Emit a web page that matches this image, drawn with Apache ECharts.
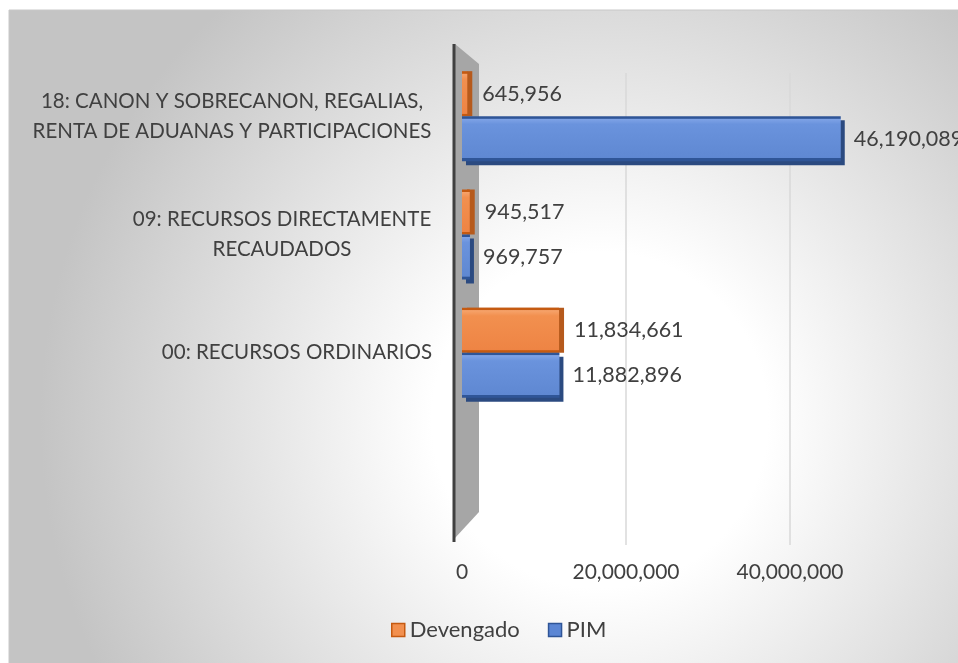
<!DOCTYPE html>
<html>
<head>
<meta charset="utf-8">
<script src="https://cdn.jsdelivr.net/npm/echarts@6/dist/echarts.min.js"></script>
<style>
html,body{margin:0;padding:0;background:#fff;}
#chart{width:958px;height:663px;}
</style>
</head>
<body>
<div id="chart"></div>
<script>
// ---- data ----
const categories = [
  "00: RECURSOS ORDINARIOS",
  "09: RECURSOS DIRECTAMENTE\nRECAUDADOS",
  "18: CANON Y SOBRECANON, REGALIAS,\nRENTA DE ADUANAS Y PARTICIPACIONES"
];
const devengado = [11834661, 945517, 645956];
const pim = [11882896, 969757, 46190089];
const seriesNames = ["Devengado", "PIM"];
const xTicks = [0, 20000000, 40000000];
const xMax = 50000000;

// ---- chart ----
const chart = echarts.init(document.getElementById('chart'), null, {renderer: 'canvas'});
const fontFam = 'Lato, "Open Sans", sans-serif';
const txt = '#404040';
const labelWidths = [270, 300, 400];
const fmt = v => v.toLocaleString('en-US');

const rich = {};
labelWidths.forEach((w, i) => {
  rich['c' + i] = {width: w, align: 'center', fontSize: 20.5, lineHeight: 30, color: txt, fontFamily: fontFam};
});

const orangeFill = new echarts.graphic.LinearGradient(0, 0, 0, 1, [
  {offset: 0, color: '#c55a11'}, {offset: 0.05, color: '#c55a11'},
  {offset: 0.06, color: '#f6a36b'}, {offset: 0.18, color: '#f2904f'},
  {offset: 0.94, color: '#ee8444'}, {offset: 0.95, color: '#c55a11'}, {offset: 1, color: '#c55a11'}
]);
const blueFill = new echarts.graphic.LinearGradient(0, 0, 0, 1, [
  {offset: 0, color: '#2f5597'}, {offset: 0.05, color: '#2f5597'},
  {offset: 0.06, color: '#7fa3e6'}, {offset: 0.18, color: '#6a93dd'},
  {offset: 0.93, color: '#5f88d2'}, {offset: 0.94, color: '#2f5597'}, {offset: 1, color: '#2f5597'}
]);

const option = {
  animation: false,
  textStyle: {fontFamily: fontFam},
  graphic: [
    {
      type: 'rect', z: -100, silent: true,
      shape: {x: 9, y: 10, width: 960, height: 660},
      style: {
        fill: new echarts.graphic.RadialGradient(600, 420, 560, [
          {offset: 0, color: '#ffffff'},
          {offset: 0.3, color: '#ffffff'},
          {offset: 1, color: '#c4c4c4'}
        ], true),
        stroke: '#c8c8c8', lineWidth: 1
      }
    },
    {
      type: 'polygon', z: 1, silent: true,
      shape: {points: [[455, 44], [479, 64], [479, 512], [455, 538]]},
      style: {fill: '#a6a6a6'}
    },
    {
      type: 'line', z: 1, silent: true,
      shape: {x1: 454, y1: 44, x2: 454, y2: 542},
      style: {stroke: '#404040', lineWidth: 3}
    }
  ],
  legend: {
    data: seriesNames,
    bottom: 17,
    left: 386,
    icon: 'rect',
    itemWidth: 13,
    itemHeight: 13,
    itemGap: 28,
    textStyle: {fontSize: 22, color: txt, fontFamily: fontFam}
  },
  grid: [
    {left: 462, right: 86, top: 57, bottom: 251, containLabel: false},
    {left: 462, right: 86, top: 73, bottom: 118, containLabel: false}
  ],
  xAxis: [
    {gridIndex: 0, type: 'value', min: 0, max: xMax, show: false},
    {
      gridIndex: 1, type: 'value', min: 0, max: xMax, interval: 20000000,
      axisLine: {show: false}, axisTick: {show: false},
      splitLine: {show: true, showMinLine: false, showMaxLine: false, lineStyle: {color: '#d9d9d9', width: 1.5}},
      axisLabel: {
        margin: 17, fontSize: 21, color: txt, fontFamily: fontFam,
        showMaxLabel: false,
        formatter: v => (xTicks.indexOf(v) >= 0 ? fmt(v) : '')
      }
    }
  ],
  yAxis: [
    {
      gridIndex: 0, type: 'category', data: categories,
      axisLine: {show: false}, axisTick: {show: false},
      axisLabel: {
        margin: 30,
        formatter: (v, i) => v.split('\n').map(l => '{c' + i + '|' + l + '}').join('\n'),
        rich: rich
      }
    },
    {gridIndex: 1, type: 'value', min: 0, max: 1, show: false}
  ],
  series: [
    {
      name: seriesNames[0], type: 'bar', xAxisIndex: 0, yAxisIndex: 0,
      data: devengado, barWidth: 45, barGap: '0%', z: 3,
      itemStyle: {color: orangeFill, borderWidth: 0,
        shadowColor: '#b65a1c', shadowOffsetX: 5, shadowOffsetY: 0, shadowBlur: 0},
      label: {show: true, position: 'right', distance: 15, fontSize: 21.5, color: txt, fontFamily: fontFam, formatter: p => fmt(p.value)}
    },
    {
      name: seriesNames[1], type: 'bar', xAxisIndex: 0, yAxisIndex: 0,
      data: pim, barWidth: 45, barGap: '0%', z: 3,
      itemStyle: {color: blueFill, borderWidth: 0,
        shadowColor: '#2b4a80', shadowOffsetX: 4, shadowOffsetY: 4, shadowBlur: 0},
      label: {show: true, position: 'right', distance: 13, fontSize: 21.5, color: txt, fontFamily: fontFam, formatter: p => fmt(p.value)}
    }
  ]
};
option.legend.data = [
  {name: seriesNames[0], itemStyle: {color: '#f2904f', borderColor: '#c55a11', borderWidth: 1.5, shadowBlur: 0, shadowOffsetX: 0, shadowOffsetY: 0}},
  {name: seriesNames[1], itemStyle: {color: '#5b86d4', borderColor: '#2f5597', borderWidth: 1.5, shadowBlur: 0, shadowOffsetX: 0, shadowOffsetY: 0}}
];
chart.setOption(option);
</script>
</body>
</html>
